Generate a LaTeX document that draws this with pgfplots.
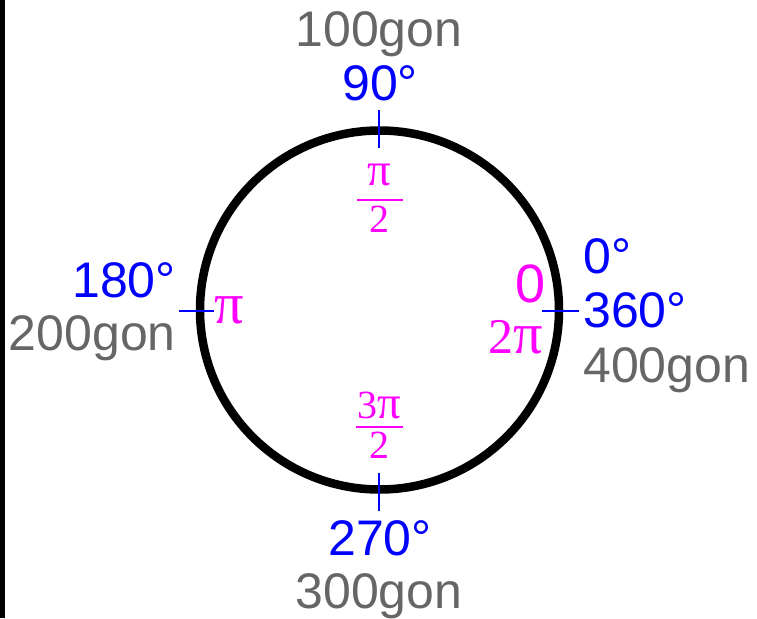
\documentclass[border=0pt]{standalone}
\usepackage{pgfplots}
\pgfplotsset{compat=1.18}
\usepackage{fontspec}
\setmainfont{Liberation Sans}
\newfontfamily\serif{Liberation Serif}
\newfontfamily\serifpi[Scale=1.17]{Liberation Serif}
\newcommand{\PI}{{\serifpi π}}
\definecolor{gr}{HTML}{666666}
\definecolor{mg}{HTML}{FF00FF}
\definecolor{bl}{HTML}{0000FF}
\newcommand{\sz}[1]{\fontsize{#1}{#1}\selectfont}
\begin{document}
\begin{tikzpicture}
\begin{axis}[name=ax, hide axis, scale only axis, width=757pt, height=618pt,
  xmin=0, xmax=757, ymin=0, ymax=618, y dir=reverse, clip=false]
% left black bar
\addplot[draw=none, fill=black] coordinates {(0,0) (5,0) (5,618) (0,618)} -- cycle;
% circle
\draw[black, line width=8.5pt] (axis cs:379.5,310) circle [radius=179.5];
% tick marks
\addplot[bl, line width=2pt] coordinates {(379,110) (379,148)};
\addplot[bl, line width=2pt] coordinates {(379,473) (379,511)};
\addplot[bl, line width=2pt] coordinates {(542,310.5) (579,310.5)};
\addplot[bl, line width=2pt] coordinates {(179,310.5) (214,310.5)};
% top labels
\node[anchor=base, inner sep=0, text=gr, font=\sz{50}] at (axis cs:379,47) {100gon};
\node[anchor=base, inner sep=0, text=bl, font=\sz{50}] at (axis cs:380,100) {90°};
% bottom labels
\node[anchor=base, inner sep=0, text=bl, font=\sz{50}] at (axis cs:380,555) {270°};
\node[anchor=base, inner sep=0, text=gr, font=\sz{50}] at (axis cs:379,608) {300gon};
% right labels
\node[anchor=base west, inner sep=0, text=bl, font=\sz{50}] at (axis cs:583,273) {0°};
\node[anchor=base west, inner sep=0, text=bl, font=\sz{50}] at (axis cs:583,327) {360°};
\node[anchor=base west, inner sep=0, text=gr, font=\sz{50}] at (axis cs:583,382) {400gon};
% left labels
\node[anchor=base east, inner sep=0, text=bl, font=\sz{50}] at (axis cs:176,297) {180°};
\node[anchor=base east, inner sep=0, text=gr, font=\sz{50}] at (axis cs:176,350) {200gon};
% magenta labels
\node[anchor=base, inner sep=0, text=mg, font=\sz{54}] at (axis cs:530.5,302) {0};
\node[anchor=base, inner sep=0, text=mg, font=\serif\sz{50}, text height=32pt] at (axis cs:515.5,353) {2\PI};
\node[anchor=base, inner sep=0, text=mg, font=\serif\sz{50}] at (axis cs:229,323) {\PI};
% top fraction
\node[anchor=base, inner sep=0, text=mg, font=\serif\sz{40}] at (axis cs:379,185) {\PI};
\draw[mg, line width=2pt] (axis cs:357,200) -- (axis cs:403,200);
\node[anchor=base, inner sep=0, text=mg, font=\serif\sz{40}] at (axis cs:379,232) {2};
% bottom fraction
\node[anchor=base, inner sep=0, text=mg, font=\serif\sz{40}] at (axis cs:379,418) {3\PI};
\draw[mg, line width=2pt] (axis cs:356,427) -- (axis cs:403,427);
\node[anchor=base, inner sep=0, text=mg, font=\serif\sz{40}] at (axis cs:379,458) {2};
\end{axis}
\pgfresetboundingbox
\path (ax.south west) rectangle (ax.north east);
\end{tikzpicture}
\end{document}
